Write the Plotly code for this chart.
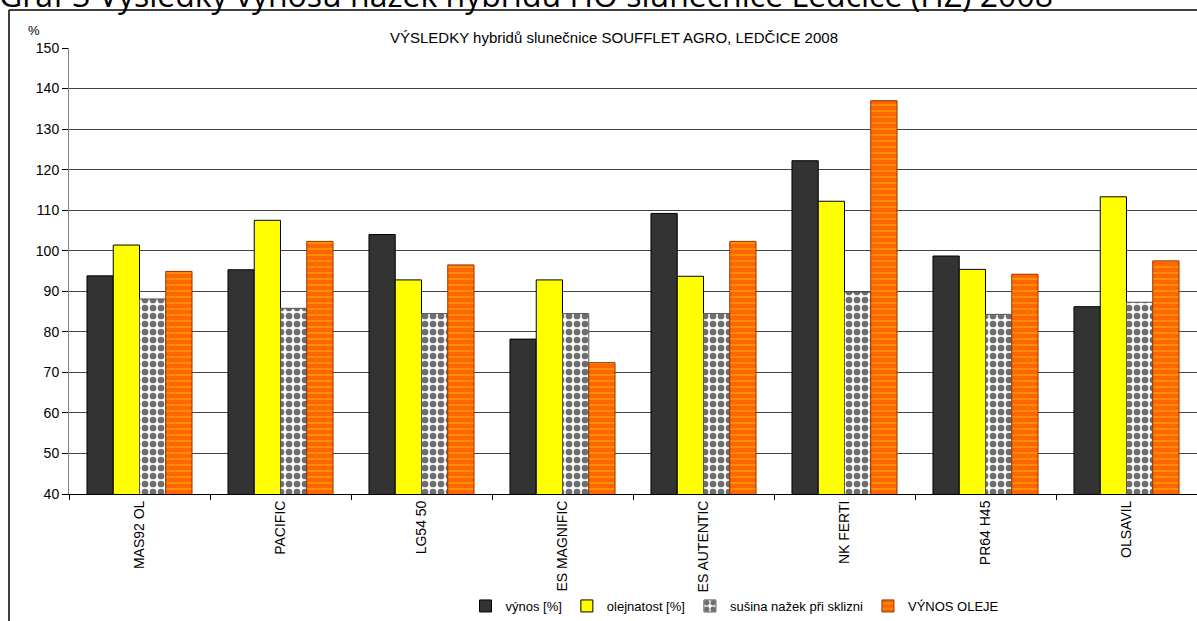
import plotly.graph_objects as go

categories = ["MAS92 OL", "PACIFIC", "LG54 50", "ES MAGNIFIC", "ES AUTENTIC", "NK FERTI", "PR64 H45", "OLSAVIL"]
vynos = [93.8, 95.3, 104.0, 78.2, 109.2, 122.2, 98.7, 86.2]
olejnatost = [101.4, 107.5, 92.8, 92.8, 93.7, 112.2, 95.4, 113.3]
susina = [88.1, 85.8, 84.5, 84.5, 84.5, 89.8, 84.3, 87.3]
vynos_oleje = [94.9, 102.3, 96.5, 72.4, 102.3, 137.0, 94.2, 97.5]
series_names = ["výnos [%]", "olejnatost [%]", "sušina nažek při sklizni", "VÝNOS OLEJE"]
y_ticks = [40, 50, 60, 70, 80, 90, 100, 110, 120, 130, 140, 150]

W, H = 1197, 621
L, R, T, B = 69, 0, 48, 127
pw, ph = W - L - R, H - T - B

def px_x(x):
    return (x - L) / pw

def px_y(y):
    return (H - B - y) / ph

fig = go.Figure()
fig.add_trace(go.Bar(x=categories, y=vynos, name=series_names[0],
                     marker=dict(color="#333333", line=dict(color="#000000", width=1))))
fig.add_trace(go.Bar(x=categories, y=olejnatost, name=series_names[1],
                     marker=dict(color="#FFFF00", line=dict(color="#000000", width=1))))
fig.add_trace(go.Bar(x=categories, y=susina, name=series_names[2],
                     marker=dict(color="#FFFFFF", line=dict(color="#555555", width=1),
                                 pattern=dict(shape=".", fgcolor="#6E6E6E", bgcolor="#FFFFFF",
                                              fgopacity=1, size=8, solidity=0.55))))
fig.add_trace(go.Bar(x=categories, y=vynos_oleje, name=series_names[3],
                     marker=dict(color="#FF6600", line=dict(color="#993300", width=1),
                                 pattern=dict(shape="-", fgcolor="#FFC000", bgcolor="#FF6600",
                                              size=6, solidity=0.3))))

fig.update_layout(
    width=W, height=H,
    margin=dict(l=L, r=R, t=T, b=B, pad=0),
    paper_bgcolor="white", plot_bgcolor="white",
    barmode="group", bargap=0.255, bargroupgap=0,
    font=dict(family="Arial, Liberation Sans, sans-serif", color="#000000"),
    showlegend=True,
    legend=dict(orientation="h", x=px_x(735), xanchor="center", y=px_y(621), yanchor="bottom",
                font=dict(size=13), traceorder="normal", itemwidth=30,
                tracegroupgap=0, bgcolor="rgba(0,0,0,0)"),
)
fig.update_xaxes(type="category", tickson="boundaries", ticks="outside", ticklen=5,
                 tickcolor="#000000", showline=True, linecolor="#000000", linewidth=1,
                 tickangle=-90, tickfont=dict(size=14), showgrid=False, fixedrange=True,
                 automargin=False)
fig.update_yaxes(range=[40, 150], tickvals=y_ticks, ticks="outside", ticklen=6,
                 tickcolor="#000000", showline=True, linecolor="#808080", linewidth=1,
                 showgrid=True, gridcolor="#444444", gridwidth=1, tickfont=dict(size=14),
                 zeroline=False, fixedrange=True, automargin=False)

# outer chart border (left and top edges visible)
fig.add_shape(type="line", xref="paper", yref="paper", x0=px_x(9), x1=px_x(W + 5),
              y0=px_y(10), y1=px_y(10), line=dict(color="#000000", width=1.5))
fig.add_shape(type="line", xref="paper", yref="paper", x0=px_x(9), x1=px_x(9),
              y0=px_y(10), y1=px_y(H + 5), line=dict(color="#000000", width=1.5))

fig.add_annotation(text="VÝSLEDKY hybridů slunečnice SOUFFLET AGRO, LEDČICE 2008",
                   xref="paper", yref="paper", x=px_x(614), y=px_y(38), xanchor="center",
                   yanchor="middle", showarrow=False, font=dict(size=15))
fig.add_annotation(text="%", xref="paper", yref="paper", x=px_x(26), y=px_y(30),
                   xanchor="left", yanchor="middle", showarrow=False, font=dict(size=13))
fig.add_annotation(text="Graf 3 Výsledky výnosů nažek hybridů HO slunečnice Ledčice (HZ) 2008",
                   xref="paper", yref="paper", x=px_x(-3), y=px_y(-6), xanchor="left",
                   yanchor="middle", showarrow=False,
                   font=dict(size=32, family="Open Sans, Noto Sans, sans-serif"))

fig.write_html("out.html", config={"displayModeBar": False},
               post_script="document.body.style.margin='0';document.body.style.overflow='hidden';")
